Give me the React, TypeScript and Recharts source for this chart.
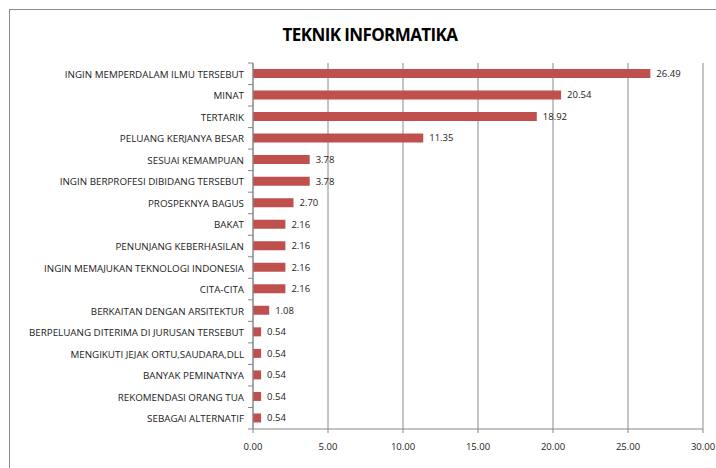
import { BarChart, Bar, XAxis, YAxis, CartesianGrid, LabelList } from 'recharts'

const categories = [
  'INGIN MEMPERDALAM ILMU TERSEBUT',
  'MINAT',
  'TERTARIK',
  'PELUANG KERJANYA  BESAR',
  'SESUAI KEMAMPUAN',
  'INGIN BERPROFESI DIBIDANG TERSEBUT',
  'PROSPEKNYA BAGUS',
  'BAKAT',
  'PENUNJANG KEBERHASILAN',
  'INGIN MEMAJUKAN TEKNOLOGI INDONESIA',
  'CITA-CITA',
  'BERKAITAN DENGAN ARSITEKTUR',
  'BERPELUANG DITERIMA  DI JURUSAN TERSEBUT',
  'MENGIKUTI JEJAK ORTU,SAUDARA,DLL',
  'BANYAK PEMINATNYA',
  'REKOMENDASI ORANG TUA',
  'SEBAGAI ALTERNATIF',
]

const values = [26.49, 20.54, 18.92, 11.35, 3.78, 3.78, 2.7, 2.16, 2.16, 2.16, 2.16, 1.08, 0.54, 0.54, 0.54, 0.54, 0.54]

const xTicks = [0, 5, 10, 15, 20, 25, 30]

const data = categories.map((name, i) => ({ name, value: values[i] }))

const FONT = '"Open Sans", "Liberation Sans", sans-serif'

const PLOT_LEFT = 253
const PLOT_TOP = 63
const PLOT_BOTTOM = 429
const X_AXIS_H = 30
// half a category band, used to put the y tick marks between categories like Excel
const HALF_BAND = (PLOT_BOTTOM - PLOT_TOP) / categories.length / 2

function CategoryTick(props: any) {
  const { y, payload } = props
  return (
    <g>
      <line x1={PLOT_LEFT - 5} x2={PLOT_LEFT} y1={y - HALF_BAND} y2={y - HALF_BAND} stroke="#868686" />
      {payload.index === categories.length - 1 && (
        <line x1={PLOT_LEFT - 5} x2={PLOT_LEFT} y1={y + HALF_BAND} y2={y + HALF_BAND} stroke="#868686" />
      )}
      <text x={PLOT_LEFT - 9} y={y} dy={4} textAnchor="end" fontSize={9.8} fill="#222" fontFamily={FONT}>
        {payload.value}
      </text>
    </g>
  )
}

export default function App() {
  return (
    <div
      style={{
        position: 'fixed',
        left: 0,
        top: 0,
        width: 716,
        height: 468,
        background: '#fff',
        overflow: 'hidden',
      }}
    >
      <div
        style={{
          position: 'absolute',
          left: 9,
          top: 9,
          width: 720,
          height: 480,
          border: '1px solid #8c8c8c',
          boxSizing: 'border-box',
        }}
      />
      <div
        style={{
          position: 'absolute',
          left: 0,
          top: 23,
          width: 740,
          textAlign: 'center',
          fontFamily: FONT,
          fontWeight: 700,
          fontSize: 17,
          letterSpacing: -0.6,
          color: '#000',
        }}
      >
        TEKNIK INFORMATIKA
      </div>
      <div style={{ position: 'absolute', left: 0, top: 0 }}>
        <BarChart
          width={716}
          height={468}
          data={data}
          layout="vertical"
          margin={{ top: PLOT_TOP, right: 13, bottom: 468 - PLOT_BOTTOM - X_AXIS_H, left: 0 }}
          barSize={9}
        >
          <CartesianGrid horizontal={false} stroke="#8a8a8a" />
          <XAxis
            type="number"
            domain={[0, 30]}
            ticks={xTicks}
            height={X_AXIS_H}
            tickFormatter={(v: number) => v.toFixed(2)}
            stroke="#868686"
            tickSize={4}
            tickMargin={10}
            tick={{ fontSize: 9.5, fill: '#222', fontFamily: FONT }}
            allowDataOverflow
          />
          <YAxis
            type="category"
            dataKey="name"
            width={PLOT_LEFT}
            stroke="#868686"
            tickLine={false}
            interval={0}
            tick={<CategoryTick />}
          />
          <Bar dataKey="value" fill="#C0504D" isAnimationActive={false}>
            <LabelList
              dataKey="value"
              position="right"
              offset={6}
              formatter={(v: any) => Number(v).toFixed(2)}
              style={{ fontSize: 9.5, fill: '#222', fontFamily: FONT }}
            />
          </Bar>
        </BarChart>
      </div>
    </div>
  )
}
